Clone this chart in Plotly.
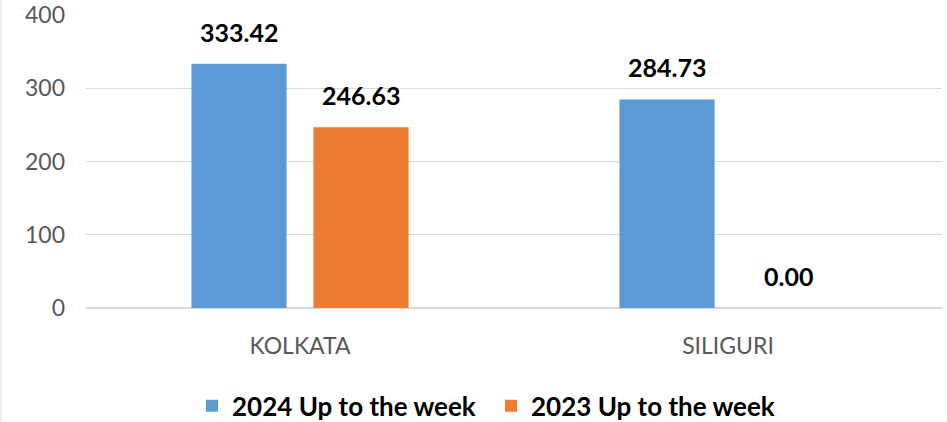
import plotly.graph_objects as go

categories = ["KOLKATA", "SILIGURI"]
series_names = ["2024 Up to the week", "2023 Up to the week"]
values_2024 = [333.42, 284.73]
values_2023 = [246.63, 0.00]
colors = ["#5B9BD5", "#ED7D31"]
y_ticks = [0, 100, 200, 300, 400]

FONT = "Lato, 'Open Sans', sans-serif"
BARGAP = 0.43
BARGROUPGAP = 0.22

fig = go.Figure()
for name, vals, col in zip(series_names, [values_2024, values_2023], colors):
    fig.add_trace(go.Bar(x=categories, y=vals, name=name, marker=dict(color=col, line=dict(width=0))))

# data labels above bars
slot = (1 - BARGAP) / 2
annotations = []
for k, vals in enumerate([values_2024, values_2023]):
    off = (k - 0.5) * slot
    for i, v in enumerate(vals):
        annotations.append(dict(x=i + off, y=v, xref="x", yref="y", text=f"{v:.2f}",
                                showarrow=False, yanchor="bottom", yshift=15,
                                font=dict(family=FONT, size=25, color="#000000", weight="bold")))

fig.update_layout(
    width=947, height=422,
    margin=dict(l=86, r=5, t=15, b=114, autoexpand=False),
    paper_bgcolor="white", plot_bgcolor="white",
    barmode="group", bargap=BARGAP, bargroupgap=BARGROUPGAP,
    font=dict(family=FONT),
    showlegend=True,
    legend=dict(orientation="h", x=(206 - 86 - 14) / 856, xanchor="left", y=-0.334, yanchor="middle",
                entrywidth=254, entrywidthmode="pixels",
                font=dict(family=FONT, size=26, color="#000000", weight="bold"),
                traceorder="normal"),
    annotations=annotations,
    shapes=[dict(type="line", xref="paper", yref="paper", x0=-85/856, x1=-85/856, y0=-114/293, y1=1 + 15/293,
                 line=dict(color="#d9d9d9", width=1))],
)
fig.update_yaxes(range=[0, 400], tickvals=y_ticks, showgrid=True, gridcolor="#d9d9d9", gridwidth=1,
                 zeroline=True, zerolinecolor="#d9d9d9", showline=False, automargin=False,
                 tickfont=dict(family=FONT, size=23, color="#595959"), ticklabelstandoff=20, ticks="")
fig.update_xaxes(showgrid=False, showline=False, ticks="", automargin=False,
                 tickfont=dict(family=FONT, size=23, color="#595959"), ticklabelstandoff=22)

fig.write_html("out.html", config={"displayModeBar": False},
               post_script="document.body.style.margin='0';document.body.style.overflow='hidden';")
